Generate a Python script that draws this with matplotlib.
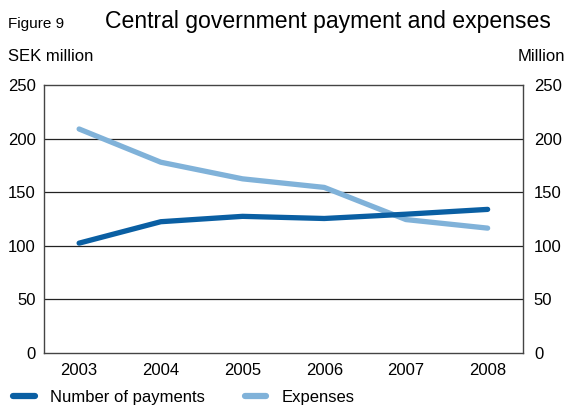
import matplotlib
matplotlib.use("Agg")
import matplotlib.pyplot as plt
from matplotlib.lines import Line2D

plt.rcParams['font.family'] = ['Liberation Sans', 'DejaVu Sans']

years = ['2003', '2004', '2005', '2006', '2007', '2008']
payments = [102.5, 122.5, 127.5, 125.5, 129.5, 134]
expenses = [209, 178, 162.5, 154.5, 124.5, 116.5]

dark_blue = '#0A5FA3'
light_blue = '#80B2D9'

fig = plt.figure(figsize=(5.67, 4.07), dpi=100)
ax = fig.add_axes([0.0776, 0.1327, 0.8444, 0.6583])

x = range(len(years))
ax.plot(x, expenses, color=light_blue, linewidth=3.8, solid_capstyle='round')
ax.plot(x, payments, color=dark_blue, linewidth=3.8, solid_capstyle='round')

ax.set_xlim(-0.43, 5.43)
ax.set_ylim(0, 250)
ax.set_yticks([0, 50, 100, 150, 200, 250])
ax.set_xticks(list(x))
ax.set_xticklabels(years)
ax.tick_params(length=0, labelsize=12, pad=6)
ax.tick_params(axis='x', pad=7)
for y in [50, 100, 150, 200]:
    ax.axhline(y, color='#222222', linewidth=0.9, zorder=0)
for s in ax.spines.values():
    s.set_color('#444444')
    s.set_linewidth(1.0)

ax2 = ax.twinx()
ax2.set_ylim(0, 250)
ax2.set_yticks([0, 50, 100, 150, 200, 250])
ax2.tick_params(length=0, labelsize=12, pad=8)
for s in ax2.spines.values():
    s.set_visible(False)

fig.text(0.014, 0.931, 'Figure 9', fontsize=11, va='baseline')
fig.text(0.185, 0.931, 'Central government payment and expenses', fontsize=16.6, va='baseline')
fig.text(0.014, 0.850, 'SEK million', fontsize=12, va='baseline')
fig.text(0.996, 0.850, 'Million', fontsize=12, va='baseline', ha='right')

handles = [Line2D([], [], color=dark_blue, linewidth=4.5, solid_capstyle='round'),
           Line2D([], [], color=light_blue, linewidth=4.5, solid_capstyle='round')]
fig.legend(handles, ['Number of payments', 'Expenses'], loc='lower left',
           bbox_to_anchor=(0.023, 0.006), ncol=2, frameon=False, fontsize=12,
           handlelength=1.3, handletextpad=0.9, columnspacing=2.4,
           borderpad=0, borderaxespad=0)

fig.savefig('out.png', dpi=100)
